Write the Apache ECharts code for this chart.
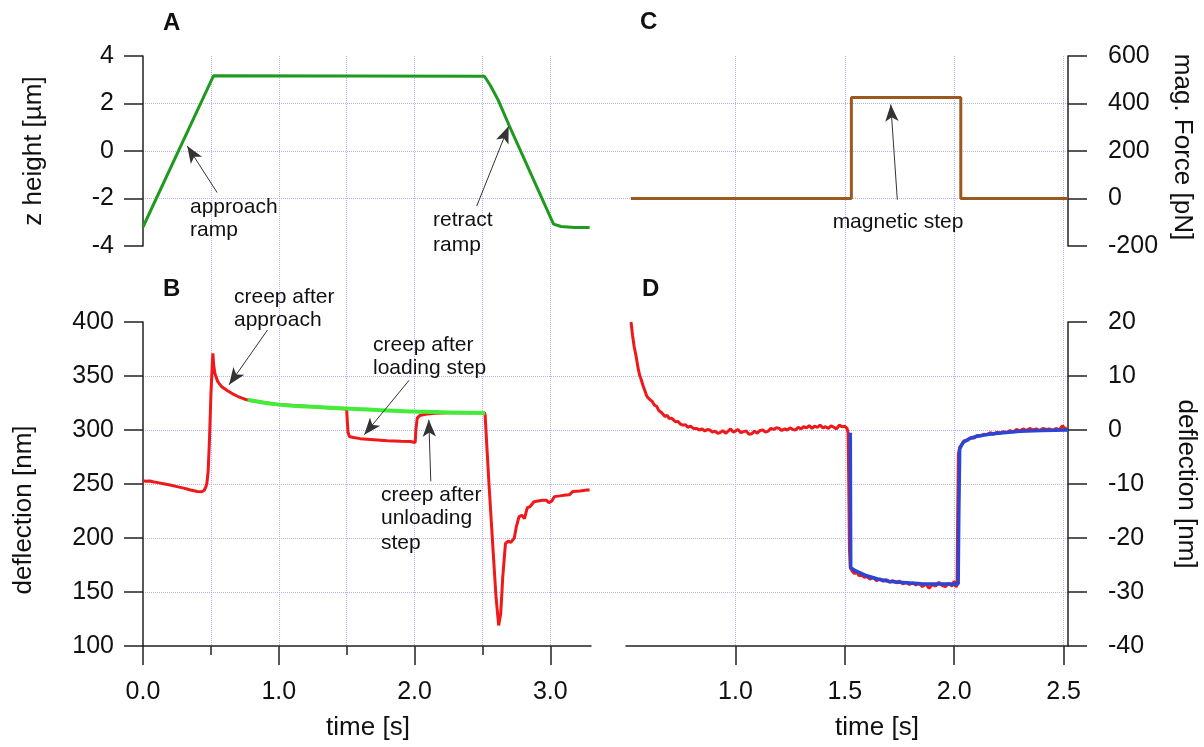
<!DOCTYPE html>
<html>
<head>
<meta charset="utf-8">
<title>AFM creep</title>
<script src="https://cdn.jsdelivr.net/npm/echarts@6.0.0/dist/echarts.min.js"></script>
<style>
  html, body { margin: 0; padding: 0; background: #fff; }
  #main { width: 1204px; height: 747px; }
</style>
</head>
<body>
<div id="main"></div>
<script>
// ---- data ----
// A: z height [um] vs time [s]
var zHeight = [
    [0, -3.2], [0.52, 3.17], [2.515, 3.15], [2.56, 2.75], [2.614, 2.17], [2.70, 1.04],
    [3.024, -3.08], [3.08, -3.18], [3.18, -3.22], [3.29, -3.22]
];

// B: deflection [nm] vs time [s] (raw trace)
var deflRaw = [
    [0, 253], [0.02, 252.5], [0.05, 252.8], [0.08, 251.8], [0.1, 251.5], [0.15, 250.3], [0.2, 249],
    [0.25, 247.6], [0.3, 246.2], [0.35, 244.5], [0.4, 243], [0.43, 242.8], [0.45, 244], [0.46, 246.5],
    [0.47, 250], [0.48, 262], [0.49, 292], [0.5, 332], [0.51, 360], [0.515, 371], [0.52, 361],
    [0.53, 352], [0.55, 345], [0.58, 340], [0.62, 336.5], [0.66, 333.5], [0.7, 331], [0.75, 328.5],
    [0.8, 327], [1.0, 323.5], [1.25, 321.5], [1.5, 319.5], [1.505, 308], [1.51, 298], [1.52, 294],
    [1.55, 293], [1.6, 292], [1.7, 291], [1.8, 290], [1.9, 289.5], [1.97, 289.3], [2.005, 288.5],
    [2.01, 300], [2.02, 311], [2.04, 313.5], [2.08, 314.5], [2.15, 315.5], [2.25, 316], [2.4, 316],
    [2.515, 316], [2.52, 314], [2.535, 280], [2.55, 247], [2.58, 186], [2.6, 146], [2.62, 119],
    [2.635, 130], [2.65, 164], [2.67, 195], [2.69, 197], [2.71, 196], [2.735, 200], [2.75, 210.5],
    [2.77, 219.8], [2.79, 221], [2.81, 218], [2.83, 227.8], [2.85, 229], [2.88, 233.6], [2.94, 235],
    [2.97, 235], [2.99, 232.7], [3.01, 234], [3.03, 238.3], [3.07, 239], [3.115, 239.8], [3.14, 240],
    [3.165, 243], [3.22, 243.5], [3.27, 244.4], [3.29, 244.5]
];

// B: creep fit after approach
var deflCreep = [
    [0.77, 328], [1.0, 323.5], [1.25, 321.5], [1.5, 319.8], [1.75, 318.3], [2.0, 317.2],
    [2.25, 316.3], [2.52, 315.8]
];

// C: magnetic force [pN] vs time [s]
var magForce = [
    [0.522, 0], [1.53, 0], [1.53, 425], [2.03, 425], [2.03, 0], [2.52, 0]
];

// D: deflection [nm] vs time [s] (measured)
var deflStep = [
    [0.523, 20], [0.53, 17.5], [0.537, 15.5], [0.546, 13.7], [0.555, 11.5], [0.562, 10.2], [0.569, 9.4],
    [0.578, 8.2], [0.586, 7.3], [0.594, 6.4], [0.6, 6.0], [0.61, 5.6], [0.62, 5.3], [0.63, 4.6],
    [0.64, 4.4], [0.65, 3.6], [0.66, 3.3], [0.67, 2.9], [0.678, 2.5], [0.688, 2.7], [0.698, 2.1],
    [0.708, 2.2], [0.716, 2.0], [0.727, 1.5], [0.737, 1.6], [0.748, 1.1], [0.761, 0.9], [0.772, 1.0],
    [0.782, 0.5], [0.795, 0.7], [0.808, 0.3], [0.822, 0.3], [0.835, 0.0], [0.848, 0.2], [0.86, -0.2],
    [0.872, 0.1], [0.883, 0.0], [0.895, -0.4], [0.907, -0.2], [0.918, -0.6], [0.93, -0.5], [0.942, -0.1],
    [0.955, -0.6], [0.967, -0.2], [0.978, 0.2], [0.99, -0.4], [1.0, -0.2], [1.012, 0.1], [1.025, -0.5],
    [1.037, -0.3], [1.05, -0.2], [1.062, -0.8], [1.075, -0.7], [1.087, -0.2], [1.1, -0.6], [1.112, -0.1],
    [1.125, 0.0], [1.137, -0.4], [1.15, -0.2], [1.162, 0.3], [1.175, 0.1], [1.187, 0.4], [1.2, 0.3],
    [1.212, -0.1], [1.225, 0.2], [1.237, 0.0], [1.25, 0.4], [1.262, 0.1], [1.275, 0.0], [1.287, 0.5],
    [1.3, 0.2], [1.312, 0.6], [1.325, 0.4], [1.337, 0.8], [1.35, 0.3], [1.362, 0.7], [1.375, 0.5],
    [1.387, 0.9], [1.4, 0.4], [1.412, 0.6], [1.425, 0.3], [1.437, 0.8], [1.45, 0.5], [1.462, 0.2],
    [1.475, 0.9], [1.487, 0.6], [1.5, 0.7], [1.51, 0.3], [1.515, -0.5], [1.518, -10], [1.521, -22],
    [1.525, -25.5], [1.535, -26.2], [1.545, -26.6], [1.555, -26.3], [1.565, -27.0], [1.575, -26.8],
    [1.59, -27.3], [1.6, -27.1], [1.615, -27.6], [1.63, -27.3], [1.645, -27.9], [1.66, -27.6],
    [1.675, -28.0], [1.69, -27.7], [1.705, -28.2], [1.72, -27.9], [1.735, -28.3], [1.75, -28.0],
    [1.765, -28.5], [1.78, -28.2], [1.795, -28.6], [1.81, -28.3], [1.825, -28.7], [1.84, -28.4],
    [1.855, -29.0], [1.87, -28.5], [1.885, -29.3], [1.9, -28.6], [1.915, -28.9], [1.93, -28.2],
    [1.945, -28.8], [1.96, -29.0], [1.975, -28.4], [1.99, -28.9], [2.0, -28.0], [2.008, -29.1],
    [2.013, -28.6], [2.016, -15], [2.019, -4.5], [2.025, -3.2], [2.035, -2.6], [2.045, -2.0],
    [2.06, -1.9], [2.075, -1.4], [2.09, -1.5], [2.105, -1.0], [2.12, -1.1], [2.135, -0.8], [2.15, -0.9],
    [2.165, -0.5], [2.18, -0.8], [2.195, -0.4], [2.21, -0.6], [2.225, -0.3], [2.24, -0.5], [2.255, -0.1],
    [2.27, -0.4], [2.285, 0.1], [2.3, -0.2], [2.315, 0.2], [2.33, -0.1], [2.345, 0.3], [2.36, 0.0],
    [2.375, 0.2], [2.39, -0.1], [2.405, 0.3], [2.42, 0.1], [2.435, 0.2], [2.45, -0.1], [2.465, 0.3],
    [2.48, 0.0], [2.495, 0.8], [2.505, 0.2], [2.515, 0.4]
];

// D: model fit
var deflFit = [
    [1.525, -0.5], [1.527, -25.5], [1.55, -26.1], [1.6, -27.0], [1.65, -27.6], [1.7, -28.0],
    [1.75, -28.2], [1.8, -28.35], [1.85, -28.45], [1.9, -28.5], [1.95, -28.5], [2.018, -28.5],
    [2.021, -15], [2.025, -3.5], [2.04, -2.3], [2.07, -1.6], [2.1, -1.2], [2.15, -0.85], [2.2, -0.6],
    [2.25, -0.4], [2.3, -0.25], [2.4, -0.1], [2.52, 0]
];

// ticks
var ticksBMajor = [0, 1, 2, 3];
var ticksBMinor = [0.5, 1.5, 2.5];
var ticksD = [1, 1.5, 2, 2.5];

// annotation arrows [tail, tip] in data coordinates
var arrowsA = [[[0.546, -1.75], [0.326, 0.21]], [[2.458, -2.32], [2.693, 1.04]]];
var arrowsB = [[[0.917, 392.6], [0.634, 341.8]], [[1.96, 346], [1.63, 295.6]], [[2.12, 252.5], [2.105, 309.5]]];
var arrowsC = [[[1.74, -5], [1.71, 396]]];

var FONT = '"Liberation Sans", Arial, Helvetica, sans-serif';
var GRIDCOL = '#b4b4f2';

var chart = echarts.init(document.getElementById('main'));

function hiddenAxis(gridIndex, min, max) {
    return { type: 'value', gridIndex: gridIndex, min: min, max: max, show: false };
}

function panelY(gridIndex, min, max, interval, pos) {
    return {
        type: 'value', gridIndex: gridIndex, min: min, max: max, interval: interval, position: pos,
        axisLine: { show: true, onZero: false, lineStyle: { color: '#222', width: 1.5 } },
        axisTick: { show: true, inside: false, length: 19, lineStyle: { color: '#222', width: 1.5 } },
        axisLabel: { color: '#111', fontSize: 25, fontFamily: FONT, margin: pos === 'right' ? 40 : 29 },
        splitLine: { show: false }
    };
}

function gridLines(gridIndex, min, max, interval) {
    return {
        type: 'value', gridIndex: gridIndex, min: min, max: max, interval: interval,
        axisLine: { show: false }, axisTick: { show: false }, axisLabel: { show: false },
        splitLine: {
            show: true, showMinLine: false, showMaxLine: false,
            lineStyle: { color: GRIDCOL, type: 'dotted', width: 1 }
        }
    };
}

function arrowLines(list) {
    return {
        silent: true, symbol: ['none', 'arrow'], symbolSize: [10, 17], animation: false,
        label: { show: false },
        itemStyle: { color: '#111' },
        lineStyle: { color: '#333', width: 1, type: 'solid' },
        emphasis: { disabled: true },
        data: list.map(function (a) { return [{ coord: a[0] }, { coord: a[1] }]; })
    };
}

function txt(str, x, y, size, opts) {
    opts = opts || {};
    return {
        type: 'text', x: x, y: y, rotation: opts.rot || 0, z: 100,
        style: {
            text: str, fill: '#111', align: opts.align || 'left', verticalAlign: 'middle',
            font: (opts.bold ? 'bold ' : '') + size + 'px ' + FONT
        }
    };
}

var option = {
    animation: false,
    backgroundColor: '#ffffff',
    grid: [
        { left: 143, top: 56, width: 448, height: 190 },   // 0 A
        { left: 143, top: 322, width: 448, height: 324 },  // 1 B
        { left: 626, top: 56, width: 442, height: 190 },   // 2 C
        { left: 626, top: 322, width: 442, height: 324 },  // 3 D
        { left: 143, top: 56, width: 925, height: 190 },   // 4 row grid top
        { left: 143, top: 322, width: 925, height: 324 },  // 5 row grid bottom
        { left: 143, top: 56, width: 448, height: 590 },   // 6 column grid left
        { left: 626, top: 56, width: 442, height: 590 }    // 7 column grid right
    ],
    xAxis: [
        hiddenAxis(0, 0, 3.3),
        {
            type: 'value', gridIndex: 1, min: 0, max: 3.3, position: 'bottom',
            axisLine: { show: true, onZero: false, lineStyle: { color: '#222', width: 1.5 } },
            axisTick: { show: true, length: 19, customValues: ticksBMajor, lineStyle: { color: '#222', width: 1.5 } },
            axisLabel: {
                customValues: ticksBMajor, color: '#111', fontSize: 25, fontFamily: FONT, margin: 34,
                formatter: function (v) { return v.toFixed(1); }
            },
            splitLine: { show: false }
        },
        {
            type: 'value', gridIndex: 1, min: 0, max: 3.3, position: 'bottom',
            axisLine: { show: false },
            axisTick: { show: true, length: 9, customValues: ticksBMinor, lineStyle: { color: '#222', width: 1.5 } },
            axisLabel: { show: false },
            splitLine: { show: false }
        },
        hiddenAxis(2, 0.5, 2.52),
        {
            type: 'value', gridIndex: 3, min: 0.5, max: 2.52, position: 'bottom',
            axisLine: { show: true, onZero: false, lineStyle: { color: '#222', width: 1.5 } },
            axisTick: { show: true, length: 19, customValues: ticksD, lineStyle: { color: '#222', width: 1.5 } },
            axisLabel: {
                customValues: ticksD, color: '#111', fontSize: 25, fontFamily: FONT, margin: 34,
                formatter: function (v) { return v.toFixed(1); }
            },
            splitLine: { show: false }
        },
        hiddenAxis(4, 0, 1),
        hiddenAxis(5, 0, 1),
        gridLines(6, 0, 3.3, 0.5),
        gridLines(7, 0.5, 2.52, 0.5)
    ],
    yAxis: [
        panelY(0, -4, 4, 2, 'left'),
        panelY(1, 100, 400, 50, 'left'),
        panelY(2, -200, 600, 200, 'right'),
        panelY(3, -40, 20, 10, 'right'),
        gridLines(4, -4, 4, 2),
        gridLines(5, 100, 400, 50),
        hiddenAxis(6, 0, 1),
        hiddenAxis(7, 0, 1)
    ],
    series: [
        {
            name: 'z height', type: 'line', xAxisIndex: 0, yAxisIndex: 0, data: zHeight,
            showSymbol: false, lineStyle: { color: '#1f9a1f', width: 3 },
            markLine: arrowLines(arrowsA)
        },
        {
            name: 'deflection', type: 'line', xAxisIndex: 1, yAxisIndex: 1, data: deflRaw,
            showSymbol: false, lineStyle: { color: '#f01818', width: 3 },
            markLine: arrowLines(arrowsB)
        },
        {
            name: 'creep', type: 'line', xAxisIndex: 1, yAxisIndex: 1, data: deflCreep, smooth: true,
            showSymbol: false, lineStyle: { color: '#44ec3a', width: 4 }
        },
        {
            name: 'mag. Force', type: 'line', xAxisIndex: 3, yAxisIndex: 2, data: magForce,
            showSymbol: false, lineStyle: { color: '#9a5a1e', width: 3 },
            markLine: arrowLines(arrowsC)
        },
        {
            name: 'deflection D', type: 'line', xAxisIndex: 4, yAxisIndex: 3, data: deflStep,
            showSymbol: false, lineStyle: { color: '#f01818', width: 3 }
        },
        {
            name: 'fit', type: 'line', xAxisIndex: 4, yAxisIndex: 3, data: deflFit,
            showSymbol: false, lineStyle: { color: '#2a46d6', width: 3.5 }
        }
    ],
    graphic: [
        txt('A', 163, 23, 24, { bold: true }),
        txt('B', 163, 289, 24, { bold: true }),
        txt('C', 640, 22, 24, { bold: true }),
        txt('D', 642, 289, 24, { bold: true }),
        txt('z height [µm]', 34, 151, 26, { rot: Math.PI / 2, align: 'center' }),
        txt('deflection [nm]', 24, 510, 26, { rot: Math.PI / 2, align: 'center' }),
        txt('time [s]', 368, 728, 26, { align: 'center' }),
        txt('time [s]', 877, 728, 26, { align: 'center' }),
        txt('mag. Force [pN]', 1182, 147, 26, { rot: -Math.PI / 2, align: 'center' }),
        txt('deflection [nm]', 1186, 484, 26, { rot: -Math.PI / 2, align: 'center' }),
        txt('approach', 190, 207, 21),
        txt('ramp', 190, 230, 21),
        txt('retract', 433, 220, 21),
        txt('ramp', 433, 245, 21),
        txt('magnetic step', 898, 222, 21, { align: 'center' }),
        txt('creep after', 234, 297, 21),
        txt('approach', 234, 320, 21),
        txt('creep after', 373, 345, 21),
        txt('loading step', 373, 368, 21),
        txt('creep after', 381, 495, 21),
        txt('unloading', 381, 518, 21),
        txt('step', 381, 543, 21)
    ]
};

chart.setOption(option);
</script>
</body>
</html>
